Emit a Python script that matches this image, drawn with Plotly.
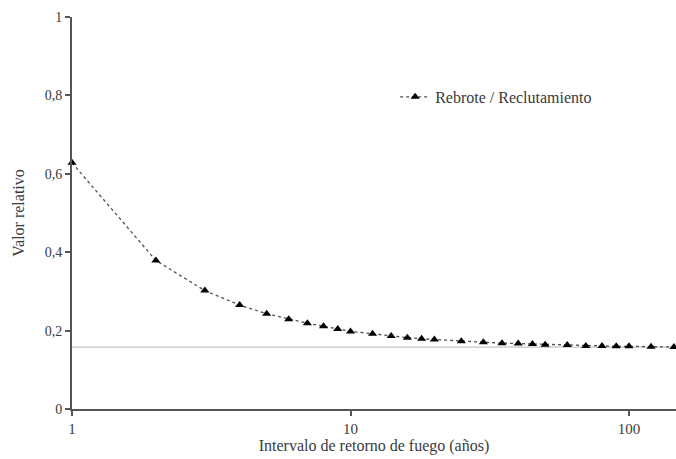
import plotly.graph_objects as go

# Fire return interval (years) and relative value of resprouting / recruitment
intervalo = [1, 2, 3, 4, 5, 6, 7, 8, 9, 10, 12, 14, 16, 18, 20, 25, 30, 35, 40,
             45, 50, 60, 70, 80, 90, 100, 120, 145]
valor = [0.628, 0.379, 0.302, 0.265, 0.243, 0.229, 0.219, 0.211, 0.204, 0.198,
         0.192, 0.186, 0.182, 0.179, 0.177, 0.173, 0.170, 0.168, 0.167, 0.166,
         0.164, 0.163, 0.161, 0.161, 0.160, 0.160, 0.159, 0.158]
asintota = 0.158

serie = "Rebrote / Reclutamiento"
y_ticks = [0, 0.2, 0.4, 0.6, 0.8, 1]
x_ticks = [1, 10, 100]

font_family = "Liberation Serif, Times New Roman, serif"
ink = "#3a3a3a"

fig = go.Figure()
fig.add_trace(go.Scatter(
    x=intervalo, y=valor, name=serie, mode="lines+markers",
    line=dict(color="#505050", width=1.3, dash="dot"),
    marker=dict(symbol="triangle-up", size=8, color="black"),
    cliponaxis=False,
))

fig.add_shape(type="line", xref="paper", x0=0, x1=1, yref="y",
              y0=asintota, y1=asintota,
              line=dict(color="#c4c4c4", width=1.2), layer="below")

fig.update_layout(
    width=676, height=459,
    margin=dict(l=72, r=0, t=17, b=50),
    paper_bgcolor="white", plot_bgcolor="white",
    separators=", ",
    font=dict(family=font_family, size=14, color=ink),
    showlegend=True,
    legend=dict(x=0.535, y=0.796, xanchor="left", yanchor="middle",
                bgcolor="rgba(0,0,0,0)", font=dict(size=16, color=ink)),
    xaxis=dict(
        type="log", range=[0, 2.1688],
        tickvals=x_ticks, ticktext=[str(v) for v in x_ticks],
        showgrid=False, zeroline=False,
        showline=True, linecolor="#555555", linewidth=2,
        ticks="outside", ticklen=5, tickwidth=1.5, tickcolor="#555555",
        tickfont=dict(size=15),
        title=dict(text="Intervalo de retorno de fuego (años)", standoff=4,
                   font=dict(size=16)),
    ),
    yaxis=dict(
        range=[0, 1], tickvals=y_ticks,
        showgrid=False, zeroline=False,
        showline=True, linecolor="#555555", linewidth=2,
        ticks="outside", ticklen=5, tickwidth=1.5, tickcolor="#555555",
        tickfont=dict(size=14),
        title=dict(text="Valor relativo", standoff=16, font=dict(size=16)),
    ),
)

fig.write_html("out.html")
